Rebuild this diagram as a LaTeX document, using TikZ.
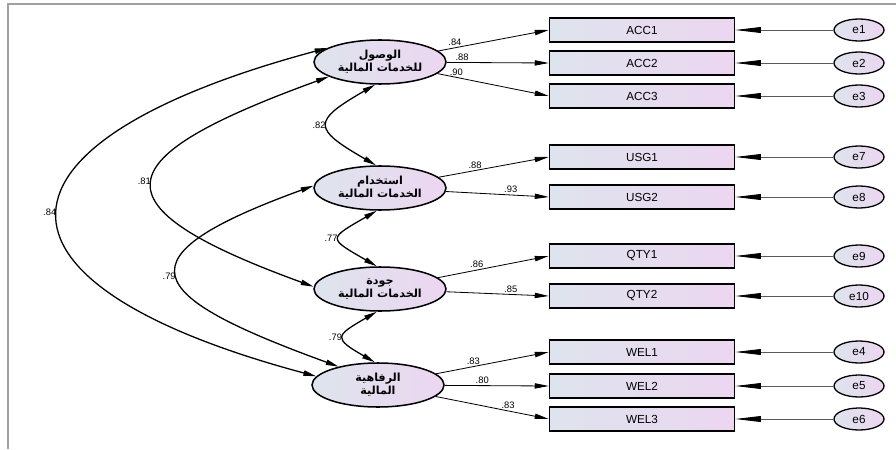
\documentclass[tikz,border=0pt]{standalone}
\usepackage{fontspec}
\setmainfont{Liberation Sans}
\newfontfamily\arabicfont[Script=Arabic]{DejaVu Sans}
\TeXXeTstate=1
\usetikzlibrary{arrows.meta}
\usetikzlibrary{shapes.geometric}
\definecolor{shadeL}{RGB}{222,228,238}
\definecolor{shadeR}{RGB}{236,214,240}
\definecolor{framegray}{RGB}{160,160,160}
\definecolor{errline}{RGB}{90,90,90}

\begin{document}
\begin{tikzpicture}[x=0.03cm, y=-0.03cm,
	latent/.style={ellipse, draw, line width=1.3pt, inner sep=0pt, minimum width=3.96cm, minimum height=1.32cm, left color=shadeL, right color=shadeR, align=center, font=\arabicfont\bfseries\fontsize{9.5}{11}\selectfont},
	obs/.style={rectangle, draw, line width=1.2pt, minimum width=5.55cm, minimum height=0.72cm, left color=shadeL, right color=shadeR, font=\fontsize{10}{12}\selectfont},
	errnode/.style={ellipse, draw, line width=1.1pt, inner sep=0pt, minimum width=1.5cm, minimum height=0.66cm, left color=shadeL, right color=shadeR, font=\fontsize{10}{12}\selectfont},
	load/.style={line width=0.7pt, -{Triangle[length=12pt,width=4.5pt]}},
	errarrow/.style={errline, line width=0.7pt, -{Triangle[length=22pt,width=5pt,color=black]}},
	cov/.style={line width=1.1pt, {Triangle[length=11pt,width=4.5pt]}-{Triangle[length=11pt,width=4.5pt]}},
	num/.style={font=\fontsize{8}{9}\selectfont, inner sep=1.5pt}]
	\useasboundingbox (0,0) rectangle (896,450);
	\draw[framegray, line width=1.2pt] (8,449) -- (8,4) -- (896,4);

	% latent variables
	\node[latent] (acc) at (380,62) {\beginR الوصول\endR\\\beginR للخدمات المالية\endR};
	\node[latent] (usg) at (380,188) {\beginR استخدام\endR\\\beginR الخدمات المالية\endR};
	\node[latent] (qty) at (380,289) {\beginR جودة\endR\\\beginR الخدمات المالية\endR};
	\node[latent] (wel) at (378,385) {\beginR الرفاهية\endR\\\beginR المالية\endR};

	% observed variables
	\node[obs] (acc1) at (642,30) {ACC1};
	\node[obs] (acc2) at (642,63) {ACC2};
	\node[obs] (acc3) at (642,96) {ACC3};
	\node[obs] (usg1) at (642,157) {USG1};
	\node[obs] (usg2) at (642,197) {USG2};
	\node[obs] (qty1) at (642,256) {QTY1};
	\node[obs] (qty2) at (642,296) {QTY2};
	\node[obs] (wel1) at (642,352) {WEL1};
	\node[obs] (wel2) at (642,386) {WEL2};
	\node[obs] (wel3) at (642,419) {WEL3};

	% errors
	\node[errnode] (e1) at (859,30) {e1};
	\node[errnode] (e2) at (859,63) {e2};
	\node[errnode] (e3) at (859,96) {e3};
	\node[errnode] (e7) at (859,157) {e7};
	\node[errnode] (e8) at (859,197) {e8};
	\node[errnode] (e9) at (859,256) {e9};
	\node[errnode] (e10) at (859,296) {e10};
	\node[errnode] (e4) at (859,352) {e4};
	\node[errnode] (e5) at (859,386) {e5};
	\node[errnode] (e6) at (859,419) {e6};

	% loadings
	\draw[load] (acc) -- node[num, pos=0.15, above] {.84} (acc1.west);
	\draw[load] (acc) -- node[num, pos=0.15, above] {.88} (acc2.west);
	\draw[load] (acc) -- node[num, pos=0.17, above] {.90} (acc3.west);
	\draw[load] (usg) -- node[num, pos=0.33, above] {.88} (usg1.west);
	\draw[load] (usg) -- node[num, pos=0.63, above] {.93} (usg2.west);
	\draw[load] (qty) -- node[num, pos=0.35, above] {.86} (qty1.west);
	\draw[load] (qty) -- node[num, pos=0.63, above] {.85} (qty2.west);
	\draw[load] (wel) -- node[num, pos=0.33, above] {.83} (wel1.west);
	\draw[load] (wel) -- node[num, pos=0.36, above] {.80} (wel2.west);
	\draw[load] (wel) -- node[num, pos=0.64, above] {.83} (wel3.west);

	\foreach \e/\b in {e1/acc1, e2/acc2, e3/acc3, e7/usg1, e8/usg2, e9/qty1, e10/qty2, e4/wel1, e5/wel2, e6/wel3}
		\draw[errarrow] (\e) -- (\b);

	% covariances
	\draw[cov] (acc.165) to[out=195, in=165, distance=10.9cm] node[num, left] {.84} (wel.172);
	\draw[cov] (acc.196) to[out=200, in=160, distance=7.15cm] node[num, left] {.81} (qty.178);
	\draw[cov] (usg.178) to[out=200, in=160, distance=6.3cm] node[num, left] {.79} (wel.155);
	\draw[cov] (acc.258) to[out=210, in=150, distance=2.2cm] node[num, left] {.82} (usg.100);
	\draw[cov] (usg.262) to[out=210, in=150, distance=1.7cm] node[num, left] {.77} (qty.98);
	\draw[cov] (qty.262) to[out=210, in=150, distance=1.45cm] node[num, left] {.79} (wel.98);
\end{tikzpicture}
\end{document}
